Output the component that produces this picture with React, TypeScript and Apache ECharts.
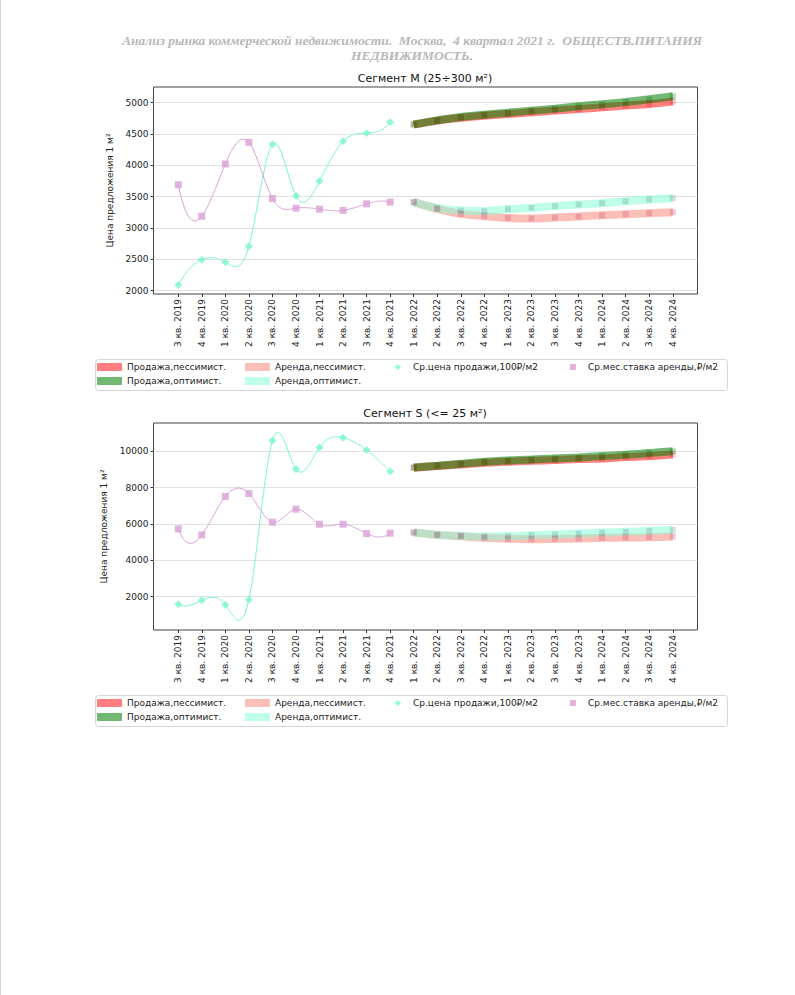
import React, { useEffect, useRef } from 'react';
import * as echarts from 'echarts';

const quarterLabels = [
  '3 кв. 2019', '4 кв. 2019',
  '1 кв. 2020', '2 кв. 2020', '3 кв. 2020', '4 кв. 2020',
  '1 кв. 2021', '2 кв. 2021', '3 кв. 2021', '4 кв. 2021',
  '1 кв. 2022', '2 кв. 2022', '3 кв. 2022', '4 кв. 2022',
  '1 кв. 2023', '2 кв. 2023', '3 кв. 2023', '4 кв. 2023',
  '1 кв. 2024', '2 кв. 2024', '3 кв. 2024', '4 кв. 2024',
];
const histStart = 0;
const forecastStart = 10;

// Segment M (25÷300 m²)
const mSalePrice = [2090, 2495, 2455, 2710, 4335, 3513, 3748, 4382, 4515, 4686];
const mRentRate = [3690, 3188, 4020, 4366, 3470, 3316, 3300, 3280, 3385, 3412];
const mSalePess = [4648, 4712, 4760, 4792, 4819, 4845, 4872, 4898, 4925, 4952, 4978, 5016];
const mSaleOpt = [4653, 4717, 4770, 4808, 4840, 4872, 4904, 4941, 4973, 5010, 5053, 5101];
const mRentPess = [3412, 3305, 3225, 3188, 3161, 3151, 3167, 3183, 3204, 3220, 3236, 3252];
const mRentOpt = [3412, 3316, 3279, 3268, 3300, 3321, 3348, 3375, 3396, 3428, 3454, 3476];
const mYTicks = [2000, 2500, 3000, 3500, 4000, 4500, 5000];

// Segment S (<= 25 m²)
const sSalePrice = [1577, 1798, 1559, 1835, 10607, 9025, 10221, 10754, 10074, 8897];
const sRentRate = [5733, 5402, 7517, 7683, 6101, 6818, 5991, 5991, 5476, 5494];
const sSalePess = [9100, 9191, 9283, 9375, 9430, 9485, 9522, 9577, 9614, 9688, 9743, 9835];
const sSaleOpt = [9118, 9210, 9320, 9430, 9504, 9559, 9614, 9669, 9743, 9816, 9908, 10010];
const sRentPess = [5533, 5404, 5331, 5239, 5184, 5165, 5184, 5202, 5239, 5257, 5276, 5312];
const sRentOpt = [5533, 5404, 5349, 5312, 5331, 5386, 5423, 5478, 5533, 5570, 5625, 5680];
const sYTicks = [2000, 4000, 6000, 8000, 10000];

const NAME_SALE_PESS = 'Продажа,пессимист.';
const NAME_SALE_OPT = 'Продажа,оптимист.';
const NAME_RENT_PESS = 'Аренда,пессимист.';
const NAME_RENT_OPT = 'Аренда,оптимист.';
const NAME_PRICE = 'Ср.цена продажи,100₽/м2';
const NAME_RATE = 'Ср.мес.ставка аренды,₽/м2';

const FONT = 'DejaVu Sans';
const C_SALE_PESS = 'rgba(255,0,0,0.5)';
const C_SALE_OPT = 'rgba(0,128,0,0.55)';
const C_RENT_PESS = 'rgba(250,128,114,0.5)';
const C_RENT_OPT = 'rgba(127,255,212,0.5)';
const C_AQUA = '#7af5d0';
const C_PLUM = '#d9a0d6';

function secondDerivs(ys: number[]): number[] {
  const n = ys.length;
  const A: number[][] = [];
  const b: number[] = [];
  for (let i = 0; i < n; i++) { A.push(new Array(n).fill(0)); b.push(0); }
  A[0][0] = 1; A[0][1] = -2; A[0][2] = 1;
  for (let i = 1; i < n - 1; i++) {
    A[i][i - 1] = 1; A[i][i] = 4; A[i][i + 1] = 1;
    b[i] = 6 * (ys[i + 1] - 2 * ys[i] + ys[i - 1]);
  }
  A[n - 1][n - 3] = 1; A[n - 1][n - 2] = -2; A[n - 1][n - 1] = 1;
  for (let c = 0; c < n; c++) {
    let p = c;
    for (let r = c + 1; r < n; r++) if (Math.abs(A[r][c]) > Math.abs(A[p][c])) p = r;
    [A[c], A[p]] = [A[p], A[c]];
    [b[c], b[p]] = [b[p], b[c]];
    for (let r = c + 1; r < n; r++) {
      const f = A[r][c] / A[c][c];
      if (f === 0) continue;
      for (let k = c; k < n; k++) A[r][k] -= f * A[c][k];
      b[r] -= f * b[c];
    }
  }
  const M = new Array(n).fill(0);
  for (let r = n - 1; r >= 0; r--) {
    let s = b[r];
    for (let k = r + 1; k < n; k++) s -= A[r][k] * M[k];
    M[r] = s / A[r][r];
  }
  return M;
}

function splineSeries(ys: number[], color: string, gi: number, x0: number) {
  const M = secondDerivs(ys);
  return {
    type: 'custom',
    name: 'spline-' + gi + '-' + color,
    xAxisIndex: gi, yAxisIndex: gi,
    silent: true,
    z: 3,
    data: ys.map((v, i) => [x0 + i, v]),
    encode: { x: 0, y: 1 },
    renderItem: (params: any, api: any) => {
      const i = params.dataIndex;
      if (i >= ys.length - 1) return { type: 'group', children: [] };
      const pts: number[][] = [];
      const steps = 24;
      for (let k = 0; k <= steps; k++) {
        const t = k / steps;
        const u = 1 - t;
        const y = u * ys[i] + t * ys[i + 1] + ((u * u * u - u) * M[i] + (t * t * t - t) * M[i + 1]) / 6;
        pts.push(api.coord([x0 + i + t, y]));
      }
      return { type: 'polyline', shape: { points: pts }, style: { stroke: color, lineWidth: 1, fill: null } };
    },
  };
}

function bandSeries(name: string, ys: number[], color: string, gi: number) {
  return {
    type: 'line', name, xAxisIndex: gi, yAxisIndex: gi,
    data: ys.map((v, i) => [forecastStart + i, v]),
    showSymbol: false, symbol: 'none', smooth: 0.3,
    lineStyle: { color, width: 8, cap: 'butt' },
    itemStyle: { color },
    z: 2, silent: true,
  };
}

function forecastMarkers(ys: number[], color: string, gi: number) {
  return {
    type: 'scatter', name: 'fm-' + gi + '-' + color, xAxisIndex: gi, yAxisIndex: gi,
    data: ys.map((v, i) => [forecastStart + i, v]),
    symbol: 'rect', symbolSize: 6, itemStyle: { color }, z: 2, silent: true,
  };
}

function histMarkers(name: string, ys: number[], color: string, symbol: string, size: number, gi: number) {
  return {
    type: 'scatter', name, xAxisIndex: gi, yAxisIndex: gi,
    data: ys.map((v, i) => [histStart + i, v]),
    symbol, symbolSize: size, itemStyle: { color }, z: 4, silent: true,
  };
}

function chartSeries(gi: number, price: number[], rate: number[], sp: number[], so: number[], rp: number[], ro: number[]) {
  return [
    bandSeries(NAME_SALE_PESS, sp, C_SALE_PESS, gi),
    bandSeries(NAME_SALE_OPT, so, C_SALE_OPT, gi),
    bandSeries(NAME_RENT_PESS, rp, C_RENT_PESS, gi),
    bandSeries(NAME_RENT_OPT, ro, C_RENT_OPT, gi),
    forecastMarkers(sp, 'rgba(200,0,0,0.25)', gi),
    forecastMarkers(so, 'rgba(0,110,0,0.35)', gi),
    forecastMarkers(rp, 'rgba(200,60,110,0.35)', gi),
    forecastMarkers(ro, 'rgba(70,120,130,0.3)', gi),
    splineSeries(price, C_AQUA, gi, histStart),
    splineSeries(rate, C_PLUM, gi, histStart),
    histMarkers(NAME_PRICE, price, C_AQUA, 'diamond', 8, gi),
    histMarkers(NAME_RATE, rate, C_PLUM, 'rect', 7, gi),
  ];
}

const tickIdx = quarterLabels.map((_, i) => i);

function xAxis(gi: number) {
  return {
    type: 'value', gridIndex: gi, min: -1.05, max: 22.05,
    axisLine: { show: false, onZero: false },
    splitLine: { show: false },
    axisTick: { show: true, inside: false, customValues: tickIdx, length: 3, lineStyle: { color: '#333' } },
    axisLabel: {
      customValues: tickIdx, rotate: 90, margin: 5, fontSize: 9, fontFamily: FONT, color: '#222',
      formatter: (v: number) => quarterLabels[Math.round(v)] ?? '',
    },
  };
}

function yAxis(gi: number, min: number, max: number, ticks: number[], nameGap: number) {
  return {
    type: 'value', gridIndex: gi, min, max,
    name: 'Цена предложения 1 м²', nameLocation: 'middle', nameGap, nameRotate: 90,
    nameTextStyle: { fontSize: 9, fontFamily: FONT, color: '#222' },
    axisLine: { show: false, onZero: false },
    axisTick: { show: true, inside: false, customValues: ticks, length: 3, lineStyle: { color: '#333' } },
    axisLabel: {
      customValues: ticks, margin: 5, fontSize: 9, fontFamily: FONT, color: '#222',
      formatter: (v: number) => String(Math.round(v)),
    },
    splitLine: { show: true, lineStyle: { color: '#e2e2e2', width: 1 } },
  };
}

function legends(r1: number, r2: number) {
  const ts = { fontSize: 9, fontFamily: FONT, color: '#222', lineHeight: 12 };
  const base = { orient: 'horizontal', padding: 0, selectedMode: false, textStyle: ts };
  const tsMarker = { ...ts, padding: [0, 0, 0, 7] };
  return [
    { ...base, data: [NAME_SALE_PESS], left: 97, top: r1 - 6, itemWidth: 25, itemHeight: 8, icon: 'rect' },
    { ...base, data: [NAME_RENT_PESS], left: 245, top: r1 - 6, itemWidth: 25, itemHeight: 8, icon: 'rect' },
    { ...base, data: [{ name: NAME_PRICE, icon: 'diamond' }], left: 395, top: r1 - 6, itemWidth: 6, itemHeight: 6, textStyle: tsMarker },
    { ...base, data: [{ name: NAME_RATE, icon: 'rect' }], left: 570, top: r1 - 6, itemWidth: 6, itemHeight: 6, textStyle: tsMarker },
    { ...base, data: [NAME_SALE_OPT], left: 97, top: r2 - 6, itemWidth: 25, itemHeight: 8, icon: 'rect' },
    { ...base, data: [NAME_RENT_OPT], left: 245, top: r2 - 6, itemWidth: 25, itemHeight: 8, icon: 'rect' },
  ];
}

export default function App() {
  const ref = useRef<HTMLDivElement>(null);
  useEffect(() => {
    if (!ref.current) return;
    const chart = echarts.init(ref.current, undefined, { renderer: 'svg' });
    const headerStyle = {
      fontFamily: 'Liberation Serif', fontStyle: 'italic', fontWeight: 'bold', fontSize: 13.5,
      fill: '#b8b8b8', textAlign: 'center', textVerticalAlign: 'middle',
    };
    const titleStyle = { fontFamily: FONT, fontSize: 11, fill: '#111', textAlign: 'center', textVerticalAlign: 'middle' };
    chart.setOption({
      animation: false,
      backgroundColor: '#ffffff',
      grid: [
        { left: 153.5, top: 87, width: 544, height: 207, show: true, borderColor: '#444', borderWidth: 1, containLabel: false },
        { left: 153.5, top: 423, width: 544, height: 207, show: true, borderColor: '#444', borderWidth: 1, containLabel: false },
      ],
      xAxis: [xAxis(0), xAxis(1)],
      yAxis: [yAxis(0, 1947, 5249, mYTicks, 38), yAxis(1, 163, 11567, sYTicks, 44)],
      legend: [...legends(367, 381), ...legends(703, 717)],
      graphic: [
        { type: 'line', shape: { x1: 0.5, y1: 0, x2: 0.5, y2: 995 }, style: { stroke: '#d5d5d5', lineWidth: 1 } },
        { type: 'text', x: 412, y: 40, style: { ...headerStyle, text: 'Анализ рынка коммерческой недвижимости.  Москва,  4 квартал 2021 г.  ОБЩЕСТВ.ПИТАНИЯ' } },
        { type: 'text', x: 412, y: 55, style: { ...headerStyle, text: 'НЕДВИЖИМОСТЬ.' } },
        { type: 'text', x: 425, y: 78, style: { ...titleStyle, text: 'Сегмент M (25÷300 м²)' } },
        { type: 'text', x: 425, y: 413, style: { ...titleStyle, text: 'Сегмент S (<= 25 м²)' } },
        { type: 'rect', z: -1, shape: { x: 95.5, y: 359.5, width: 632, height: 31, r: 3 }, style: { fill: '#fff', stroke: '#d6d6d6', lineWidth: 1 } },
        { type: 'rect', z: -1, shape: { x: 95.5, y: 695.5, width: 632, height: 31, r: 3 }, style: { fill: '#fff', stroke: '#d6d6d6', lineWidth: 1 } },
      ],
      series: [
        ...chartSeries(0, mSalePrice, mRentRate, mSalePess, mSaleOpt, mRentPess, mRentOpt),
        ...chartSeries(1, sSalePrice, sRentRate, sSalePess, sSaleOpt, sRentPess, sRentOpt),
      ],
    });
    return () => chart.dispose();
  }, []);
  return (
    <div
      ref={ref}
      style={{ position: 'fixed', left: 0, top: 0, width: 795, height: 995, background: '#fff' }}
    />
  );
}
